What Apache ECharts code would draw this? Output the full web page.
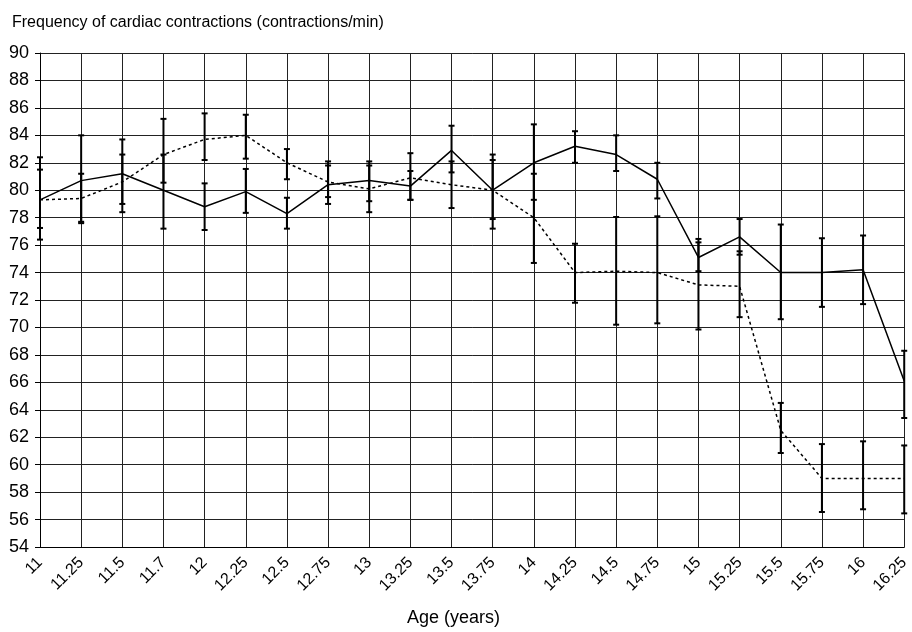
<!DOCTYPE html>
<html>
<head>
<meta charset="utf-8">
<script src="https://cdn.jsdelivr.net/npm/echarts@6/dist/echarts.min.js"></script>
<style>
html,body{margin:0;padding:0;background:#fff;}
#c{width:912px;height:632px;}
</style>
</head>
<body>
<div id="c"></div>
<script>
var categories = ['11','11.25','11.5','11.7','12','12.25','12.5','12.75','13','13.25','13.5','13.75','14','14.25','14.5','14.75','15','15.25','15.5','15.75','16','16.25'];
var yTicks = [54,56,58,60,62,64,66,68,70,72,74,76,78,80,82,84,86,88,90];

var solidValues  = [79.3, 80.7, 81.2, 80.0, 78.8, 79.9, 78.3, 80.4, 80.7, 80.3, 82.9, 80.0, 82.0, 83.2, 82.6, 80.8, 75.1, 76.6, 74.0, 74.0, 74.2, 66.1];
var solidLow     = [76.4, 77.7, 78.4, 77.2, 77.1, 78.35, 77.2, 79.0, 79.2, 79.3, 81.3, 77.2, 79.3, 82.0, 81.4, 79.4, 74.1, 75.3, 70.6, 71.5, 71.7, 63.4];
var solidHigh    = [82.4, 84.0, 83.7, 82.6, 80.5, 81.55, 79.45, 82.1, 82.1, 81.4, 84.7, 82.6, 84.8, 84.3, 84.0, 82.0, 76.2, 77.9, 77.5, 76.5, 76.7, 68.3];

var dottedValues = [79.3, 79.4, 80.6, 82.6, 83.7, 84.0, 82.0, 80.6, 80.1, 80.9, 80.4, 80.0, 78.0, 74.0, 74.1, 74.0, 73.1, 73.0, 62.5, 59.0, 59.0, 59.0];
var dottedLow    = [77.25, 77.6, 79.0, 80.55, 82.2, 82.3, 80.8, 79.5, 78.4, 79.3, 78.7, 77.9, 74.7, 71.8, 70.2, 70.3, 69.85, 70.75, 60.85, 56.55, 56.75, 56.45];
var dottedHigh   = [81.5, 81.2, 82.6, 85.2, 85.6, 85.5, 83.0, 81.8, 81.8, 82.7, 82.1, 82.2, 81.2, 76.1, 78.05, 78.1, 76.45, 75.55, 64.5, 61.5, 61.7, 61.4];

var FONT = '"Liberation Sans", Arial, sans-serif';

function errData(low, high) {
  return categories.map(function (c, i) { return [i, low[i], high[i]]; });
}
function renderErr(params, api) {
  var lo = api.coord([api.value(0), api.value(1)]);
  var hi = api.coord([api.value(0), api.value(2)]);
  var hw = 3;
  var st = { stroke: '#000', lineWidth: 2 };
  return {
    type: 'group',
    children: [
      { type: 'line', shape: { x1: lo[0], y1: lo[1], x2: hi[0], y2: hi[1] }, style: st },
      { type: 'line', shape: { x1: lo[0] - hw, y1: lo[1], x2: lo[0] + hw, y2: lo[1] }, style: st },
      { type: 'line', shape: { x1: hi[0] - hw, y1: hi[1], x2: hi[0] + hw, y2: hi[1] }, style: st }
    ]
  };
}

var chart = echarts.init(document.getElementById('c'), null, { renderer: 'canvas' });
chart.setOption({
  animation: false,
  backgroundColor: '#fff',
  title: {
    text: 'Frequency of cardiac contractions (contractions/min)',
    left: 7, top: 10,
    textStyle: { fontFamily: FONT, fontSize: 16, fontWeight: 'normal', color: '#000' }
  },
  graphic: [{
    type: 'text', left: 407, top: 609,
    style: { text: 'Age (years)', font: '18px ' + FONT, fill: '#000' }
  }],
  grid: { left: 40, right: 7, top: 53, bottom: 85, containLabel: false },
  xAxis: {
    type: 'category',
    data: categories,
    boundaryGap: false,
    axisLine: { lineStyle: { color: '#000', width: 1 } },
    axisTick: { show: false },
    axisLabel: { interval: 0, rotate: 45, fontFamily: FONT, fontSize: 16, color: '#000', margin: 13 },
    splitLine: { show: true, interval: 0, lineStyle: { color: '#222', width: 1 } }
  },
  yAxis: {
    type: 'value',
    min: yTicks[0], max: yTicks[yTicks.length - 1], interval: 2,
    axisLine: { show: true, lineStyle: { color: '#000', width: 1 } },
    axisTick: { show: true, length: 5, lineStyle: { color: '#000' } },
    axisLabel: { fontFamily: FONT, fontSize: 18, color: '#000', margin: 11 },
    splitLine: { show: true, lineStyle: { color: '#222', width: 1 } }
  },
  series: [
    {
      type: 'custom', name: 'solidErr', renderItem: renderErr,
      data: errData(solidLow, solidHigh), encode: { x: 0, y: [1, 2] }, z: 3
    },
    {
      type: 'custom', name: 'dottedErr', renderItem: renderErr,
      data: errData(dottedLow, dottedHigh), encode: { x: 0, y: [1, 2] }, z: 3
    },
    {
      type: 'line', name: 'solid', data: solidValues, symbol: 'none',
      lineStyle: { color: '#000', width: 1.5, type: 'solid' }, z: 4
    },
    {
      type: 'line', name: 'dotted', data: dottedValues, symbol: 'none',
      lineStyle: { color: '#000', width: 1.5, type: [3, 3] }, z: 4
    }
  ]
});
</script>
</body>
</html>
